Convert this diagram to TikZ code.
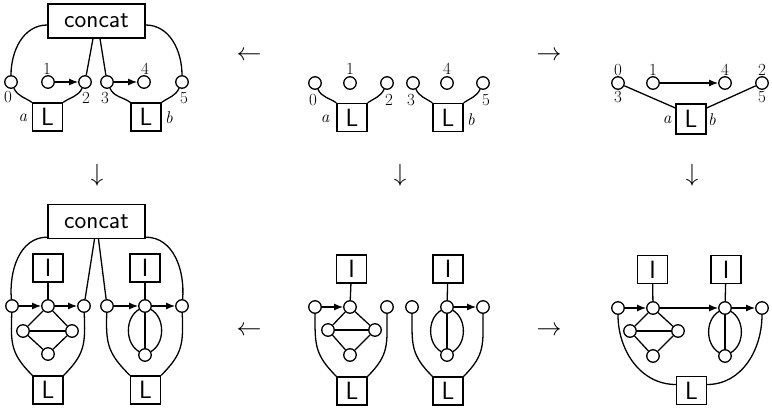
\documentclass[tikz,border=0pt]{standalone}
\usetikzlibrary{arrows.meta}
\tikzset{
  v/.style={circle, draw, fill=white, minimum size=12.5pt, inner sep=0pt},
  sbox/.style={draw, fill=white, minimum width=30pt, minimum height=28pt, inner sep=0pt,
    font=\fontsize{25}{25}\sffamily},
  cbox/.style={draw, fill=white, minimum width=97pt, minimum height=34pt, inner sep=0pt,
    font=\fontsize{25}{25}\sffamily},
  num/.style={font=\fontsize{17}{17}\selectfont, inner sep=0pt},
  port/.style={font=\fontsize{17}{17}\selectfont\itshape, inner sep=0pt},
  sym/.style={font=\fontsize{23}{23}\selectfont, inner sep=0pt},
  arr/.style={-{Latex[length=9pt,width=7pt]}},
}
\begin{document}
\begin{tikzpicture}[x=1pt, y=1pt, line width=1.3pt]
\useasboundingbox (0,0) rectangle (772,-411);

% ---------- top left: concat with two L components ----------
\node[cbox] (acc) at (96.5,-21) {concat};
\node[v] (a0) at (11,-82) {};
\node[v] (a1) at (48,-82) {};
\node[v] (a2) at (85,-82) {};
\node[v] (a3) at (107,-82) {};
\node[v] (a4) at (144,-82) {};
\node[v] (a5) at (182,-82) {};
\node[sbox] (aLa) at (47.5,-117) {L};
\node[sbox] (aLb) at (146,-117) {L};
\node[num] (an0) at (8,-97) {0};
\node[num] (an1) at (47,-69) {1};
\node[num] (an2) at (86,-98) {2};
\node[num] (an3) at (105,-98) {3};
\node[num] (an4) at (145,-69) {4};
\node[num] (an5) at (184,-98) {5};
\node[port] (apa) at (23,-118) {a};
\node[port] (apb) at (169,-118) {b};
\draw ([yshift=-4pt]acc.west) to[out=180,in=90] (a0);
\draw ([yshift=-4pt]acc.east) to[out=0,in=90] (a5);
\draw ([xshift=-3.5pt]acc.south) -- (a2);
\draw ([xshift=3.5pt]acc.south) -- (a3);
\draw (a0) to[out=-65,in=145] (aLa.north west);
\draw (a2) to[out=-115,in=35] (aLa.north east);
\draw (a3) to[out=-65,in=145] (aLb.north west);
\draw (a5) to[out=-115,in=35] (aLb.north east);
\draw[arr] (a1) -- (a2);
\draw[arr] (a3) -- (a4);

% ---------- top middle: two L components ----------
\node[v] (b0) at (315,-83) {};
\node[v] (b1) at (350,-83) {};
\node[v] (b2) at (387,-83) {};
\node[v] (b3) at (413,-83) {};
\node[v] (b4) at (447,-83) {};
\node[v] (b5) at (483,-83) {};
\node[sbox] (bLa) at (352,-117.5) {L};
\node[sbox] (bLb) at (448,-117.5) {L};
\node[num] (bn0) at (313,-100) {0};
\node[num] (bn1) at (350,-69) {1};
\node[num] (bn2) at (389,-100) {2};
\node[num] (bn3) at (411,-100) {3};
\node[num] (bn4) at (447,-69) {4};
\node[num] (bn5) at (486,-100) {5};
\node[port] (bpa) at (325,-119) {a};
\node[port] (bpb) at (471,-120) {b};
\draw (b0) to[out=-65,in=145] (bLa.north west);
\draw (b2) to[out=-115,in=35] (bLa.north east);
\draw (b3) to[out=-65,in=145] (bLb.north west);
\draw (b5) to[out=-115,in=35] (bLb.north east);

% ---------- top right: single L component ----------
\node[v] (c03) at (618,-83) {};
\node[v] (c1) at (653,-83) {};
\node[v] (c4) at (725,-83) {};
\node[v] (c25) at (762,-83) {};
\node[sbox, minimum height=30pt] (cL) at (691,-119) {L};
\node[num] (cn0) at (618,-70) {0};
\node[num] (cn3) at (618,-97) {3};
\node[num] (cn1) at (653,-70) {1};
\node[num] (cn4) at (725,-70) {4};
\node[num] (cn2) at (762,-70) {2};
\node[num] (cn5) at (762,-97) {5};
\node[port] (cpa) at (667,-120) {a};
\node[port] (cpb) at (712,-120) {b};
\draw (c03) -- ([yshift=11pt]cL.west);
\draw (c25) -- ([yshift=11pt]cL.east);
\draw[arr] (c1) -- (c4);

% ---------- arrows between the panels ----------
\node[sym] (s1) at (249,-56) {$\leftarrow$};
\node[sym] (s2) at (549,-56) {$\rightarrow$};
\node[sym] (s3) at (97,-175) {$\downarrow$};
\node[sym] (s4) at (400,-175) {$\downarrow$};
\node[sym] (s5) at (692,-175) {$\downarrow$};
\node[sym] (s6) at (249,-331) {$\leftarrow$};
\node[sym] (s7) at (549,-331) {$\rightarrow$};

% ---------- bottom left ----------
\node[cbox] (dcc) at (96.5,-221.5) {concat};
\node[v] (d0) at (12,-306) {};
\node[v] (d1) at (48,-306) {};
\node[v] (d2) at (84,-306) {};
\node[v] (d3) at (107,-306) {};
\node[v] (d4) at (145,-306) {};
\node[v] (d5) at (182,-306) {};
\node[sbox] (dIa) at (48,-268) {I};
\node[sbox] (dIb) at (145,-268) {I};
\node[v] (dl) at (23,-331) {};
\node[v] (dr) at (72,-331) {};
\node[v] (db) at (48,-354) {};
\node[v] (de) at (145,-355) {};
\node[sbox] (dLa) at (48,-390) {L};
\node[sbox] (dLb) at (145.5,-390) {L};
\draw ([yshift=2pt]dcc.south west) to[out=180,in=95] (d0);
\draw ([yshift=2pt]dcc.south east) to[out=0,in=85] (d5);
\draw ([xshift=-2pt]dcc.south) -- (d2);
\draw ([xshift=2pt]dcc.south) -- (d3);
\draw (d0) to[out=-92,in=135,looseness=1.2] (dLa.north west);
\draw (d2) to[out=-88,in=45,looseness=1.2] (dLa.north east);
\draw (d3) to[out=-92,in=135,looseness=1.2] (dLb.north west);
\draw (d5) to[out=-88,in=45,looseness=1.2] (dLb.north east);
\draw (dIa) -- (d1);
\draw (dIb) -- (d4);
\draw[arr] (d0) -- (d1);
\draw[arr] (d1) -- (d2);
\draw[arr] (d3) -- (d4);
\draw[arr] (d4) -- (d5);
\draw (d1) -- (dl);
\draw (d1) -- (dr);
\draw (dl) -- (dr);
\draw (dl) -- (db);
\draw (dr) -- (db);
\draw (d4) to[out=-150,in=150] (de);
\draw (d4) to[out=-30,in=30] (de);
\draw (d4) -- (de);

% ---------- bottom middle ----------
\node[v] (e0) at (315,-307) {};
\node[v] (e1) at (350,-307) {};
\node[v] (e2) at (387,-307) {};
\node[v] (e3) at (412,-307) {};
\node[v] (e4) at (447,-307) {};
\node[v] (e5) at (483,-307) {};
\node[sbox] (eIa) at (351.5,-269) {I};
\node[sbox] (eIb) at (448,-269) {I};
\node[v] (el) at (328,-330) {};
\node[v] (er) at (375,-330) {};
\node[v] (eb) at (350,-355) {};
\node[v] (ee) at (447,-355) {};
\node[sbox] (eLa) at (352,-391) {L};
\node[sbox] (eLb) at (448,-391) {L};
\draw (e0) to[out=-90,in=135,looseness=1.2] (eLa.north west);
\draw (e2) to[out=-90,in=45,looseness=1.2] (eLa.north east);
\draw (e3) to[out=-90,in=135,looseness=1.2] (eLb.north west);
\draw (e5) to[out=-90,in=45,looseness=1.2] (eLb.north east);
\draw (eIa) -- (e1);
\draw (eIb) -- (e4);
\draw[arr] (e0) -- (e1);
\draw[arr] (e4) -- (e5);
\draw (e1) -- (el);
\draw (e1) -- (er);
\draw (el) -- (er);
\draw (el) -- (eb);
\draw (er) -- (eb);
\draw (e4) to[out=-150,in=150] (ee);
\draw (e4) to[out=-30,in=30] (ee);
\draw (e4) -- (ee);

% ---------- bottom right ----------
\node[v] (f0) at (618,-308) {};
\node[v] (f1) at (653,-308) {};
\node[v] (f2) at (725,-308) {};
\node[v] (f3) at (762,-308) {};
\node[sbox] (fIa) at (652.5,-269.5) {I};
\node[sbox] (fIb) at (726,-269.5) {I};
\node[v] (fl) at (630,-331) {};
\node[v] (fr) at (678,-331) {};
\node[v] (fb) at (653,-356) {};
\node[v] (fe) at (725,-356) {};
\node[sbox] (fL) at (691.5,-390.5) {L};
\draw (f0) to[out=-90,in=180] ([yshift=6pt]fL.west);
\draw (f3) to[out=-90,in=0] ([yshift=6pt]fL.east);
\draw (fIa) -- (f1);
\draw (fIb) -- (f2);
\draw[arr] (f0) -- (f1);
\draw[arr] (f1) -- (f2);
\draw[arr] (f2) -- (f3);
\draw (f1) -- (fl);
\draw (f1) -- (fr);
\draw (fl) -- (fr);
\draw (fl) -- (fb);
\draw (fr) -- (fb);
\draw (f2) to[out=-150,in=150] (fe);
\draw (f2) to[out=-30,in=30] (fe);
\draw (f2) -- (fe);
\end{tikzpicture}
\end{document}
